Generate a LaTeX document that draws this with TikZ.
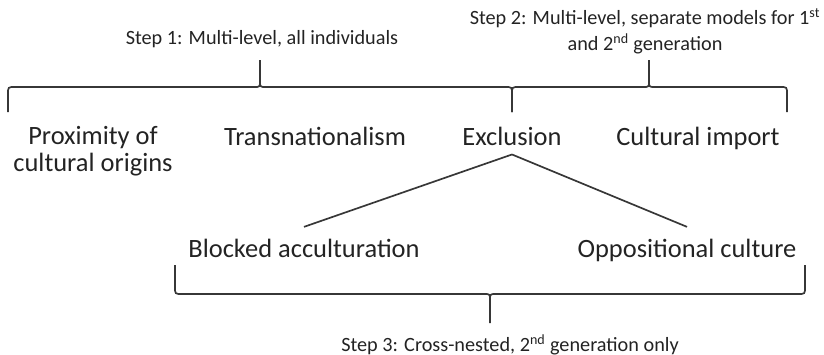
\documentclass[tikz,border=0pt]{standalone}
\usepackage{fontspec}
\setmainfont{Carlito}
\usetikzlibrary{positioning}
\definecolor{InkGray}{RGB}{35,35,35}
\definecolor{LineGray}{RGB}{55,55,55}
\tikzset{
	factor/.style={font=\fontsize{18.8}{18.5}\selectfont,text=InkGray,inner sep=0pt,align=center,anchor=base},
	stepnote/.style={font=\fontsize{14.4}{18.5}\selectfont,text=InkGray,inner sep=0pt,align=center,anchor=base},
	curly/.style={draw=LineGray,line width=1.2pt},
	branch/.style={draw=LineGray,line width=1.2pt},
}
\begin{document}
\begin{tikzpicture}[x=0.025cm,y=-0.025cm]
	\useasboundingbox (0,0) rectangle (824,355);
	% notes for the three steps
	\node[stepnote] (stepone) at (262,44.5) {Step 1: Multi-level, all individuals};
	\node[stepnote] (steptwo) at (645,50.5) {Step 2: Multi-level, separate models for 1\textsuperscript{st}\\and 2\textsuperscript{nd} generation};
	\node[stepnote] (stepthree) at (510,351.5) {Step 3: Cross-nested, 2\textsuperscript{nd} generation only};
	% explanations
	\node[factor] (prox) at (93,171) {Proximity of\\cultural origins};
	\node[factor] (trans) at (315,145) {Transnationalism};
	\node[factor,inner ysep=0.225cm] (excl) at (512,145) {Exclusion};
	\node[factor] (cult) at (698,145) {Cultural import};
	\node[factor,inner ysep=0.3cm] (blocked) at (304,257.5) {Blocked acculturation};
	\node[factor,inner ysep=0.3cm] (oppos) at (687,257.5) {Oppositional culture};
	\draw[branch] (excl.south) -- (blocked.north);
	\draw[branch] (excl.south) -- (oppos.north);
	% braces
	\draw[curly] (8,112) -- (8,94) .. controls (8,87) .. (15,87) -- (254,87) .. controls (260,87) .. (260,81) -- (260,60);
	\draw[curly] (260,81) .. controls (260,87) .. (266,87) -- (505,87) .. controls (512,87) .. (512,94) -- (512,112);
	\draw[curly] (512,112) -- (512,94) .. controls (512,87) .. (519,87) -- (643,87) .. controls (649,87) .. (649,81) -- (649,60);
	\draw[curly] (649,81) .. controls (649,87) .. (655,87) -- (780,87) .. controls (787,87) .. (787,94) -- (787,112);
	\draw[curly] (175,265) -- (175,287) .. controls (175,294) .. (182,294) -- (484,294) .. controls (490,294) .. (490,300) -- (490,323);
	\draw[curly] (490,300) .. controls (490,294) .. (496,294) -- (798,294) .. controls (805,294) .. (805,287) -- (805,265);
\end{tikzpicture}
\end{document}
